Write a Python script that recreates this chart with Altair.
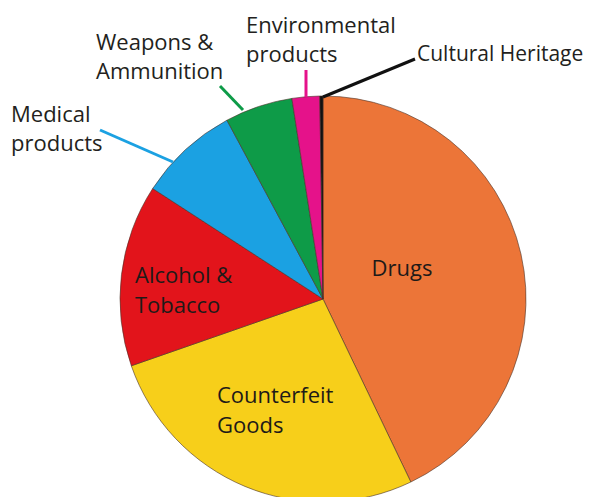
import altair as alt
import pandas as pd

# ---- data ----
categories = ["Drugs", "Counterfeit Goods", "Alcohol & Tobacco", "Medical products",
              "Weapons & Ammunition", "Environmental products", "Cultural Heritage"]
shares = [42.9, 26.8, 14.5, 8.0, 5.4, 2.2, 0.25]
colors = ["#EC7538", "#F7CF1A", "#E2141B", "#1BA1E2", "#0E9B48", "#E5128A", "#111111"]

# ---- label text (layout kept separately) ----
label_texts = ["Drugs", "Counterfeit\nGoods", "Alcohol &\nTobacco", "Medical\nproducts",
               "Weapons &\nAmmunition", "Environmental\nproducts", "Cultural Heritage"]

# layout (pixels, relative to plot origin)
W, H = 576, 489
CX, CY, R = 315, 291, 203
label_x = [394, 209, 127, 3, 88, 238, 409]
label_y = [261, 388, 268, 107, 35, 18, 47]
label_size = [22, 22, 22, 22, 22, 22, 21]
leader_x1 = [None, None, None, 92, 212, 298, 315]
leader_y1 = [None, None, None, 122, 78, 62, 89]
leader_x2 = [None, None, None, 165, 235, 298, 407]
leader_y2 = [None, None, None, 154, 102, 89, 51]

pie_df = pd.DataFrame({"category": categories, "share": shares,
                       "order": list(range(len(categories)))})

color_scale = alt.Scale(domain=categories, range=colors)

pie = alt.Chart(pie_df).mark_arc(
    outerRadius=R, stroke="#4a3328", strokeWidth=0.6
).encode(
    theta=alt.Theta("share:Q", stack=True),
    order=alt.Order("order:Q"),
    color=alt.Color("category:N", scale=color_scale, legend=None),
    x=alt.value(CX),
    y=alt.value(CY),
)

lead_rows = [
    {"category": c, "x1": a, "y1": b, "x2": d, "y2": e}
    for c, a, b, d, e in zip(categories, leader_x1, leader_y1, leader_x2, leader_y2)
    if a is not None
]
lead_df = pd.DataFrame(lead_rows)
leaders = alt.Chart(lead_df).mark_rule(strokeWidth=3).encode(
    x=alt.X("x1:Q", scale=None),
    y=alt.Y("y1:Q", scale=None),
    x2="x2:Q",
    y2="y2:Q",
    color=alt.Color("category:N", scale=color_scale, legend=None),
)

lab_df = pd.DataFrame({"text": label_texts, "x": label_x, "y": label_y,
                       "size": label_size})

drugs_text = alt.Chart(lab_df.iloc[:1]).mark_text(
    baseline="middle", font="Open Sans", color="#1e1a18", align="center"
).encode(x=alt.X("x:Q", scale=None), y=alt.Y("y:Q", scale=None), text="text:N",
         size=alt.Size("size:Q", scale=None, legend=None))

inner_text = alt.Chart(lab_df.iloc[1:3]).mark_text(
    baseline="middle", lineBreak="\n", lineHeight=30,
    font="Open Sans", color="#1e1a18", align="left"
).encode(x=alt.X("x:Q", scale=None), y=alt.Y("y:Q", scale=None), text="text:N",
         size=alt.Size("size:Q", scale=None, legend=None))

outer_text = alt.Chart(lab_df.iloc[3:]).mark_text(
    baseline="middle", lineBreak="\n", lineHeight=28.5,
    font="Open Sans", color="#231F20", align="left"
).encode(x=alt.X("x:Q", scale=None), y=alt.Y("y:Q", scale=None), text="text:N",
         size=alt.Size("size:Q", scale=None, legend=None))

chart = alt.layer(pie, leaders, drugs_text, inner_text, outer_text).properties(
    width=W, height=H,
    autosize=alt.AutoSizeParams(type="none"),
    padding=0,
).configure_view(stroke=None)

chart.save("out.html", embed_options={"renderer": "svg", "actions": False})
